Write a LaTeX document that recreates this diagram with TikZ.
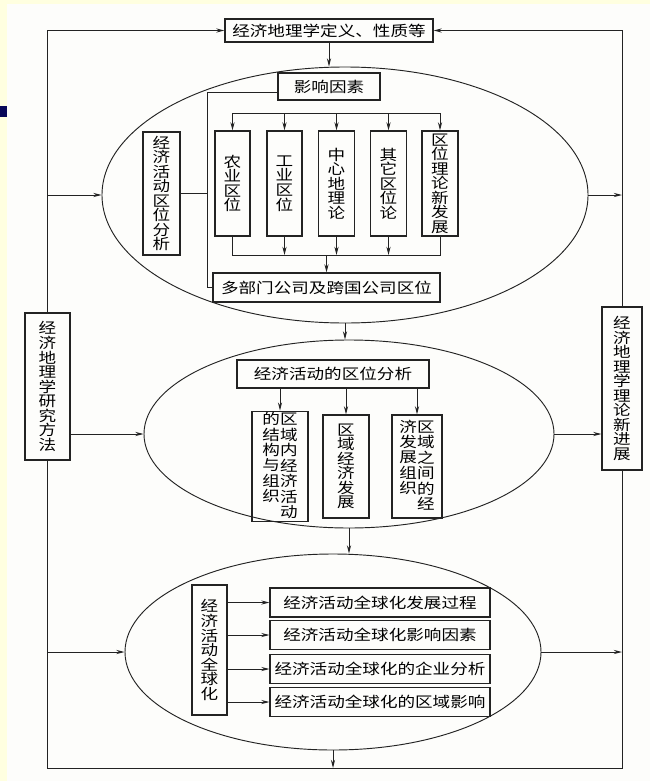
\documentclass[tikz,border=0pt]{standalone}
\usepackage{fontspec}
\newfontfamily\cjk[FakeStretch=1.2]{Noto Sans CJK SC}
\usepackage{xcolor}
\definecolor{pageyellow}{RGB}{255,255,224}
\definecolor{scanwhite}{RGB}{253,253,251}
\definecolor{slidenavy}{RGB}{8,8,88}
\definecolor{inkgray}{RGB}{35,35,35}
\usetikzlibrary{arrows.meta,shapes.geometric}

\begin{document}
\begin{tikzpicture}[x=0.03cm,y=-0.03cm,
  box/.style={draw=inkgray,line width=0.9pt,inner sep=2pt,font=\cjk\fontsize{12.5}{12.4}\selectfont},
  vbox/.style={box,align=center,inner sep=1pt},
  vboxtight/.style={box,inner sep=1pt,font=\cjk\fontsize{12.5}{11.4}\selectfont\renewcommand\arraystretch{0.8}},
  oval/.style={draw=inkgray,line width=0.8pt,ellipse,inner sep=0pt},
  link/.style={draw=inkgray,line width=0.8pt},
  arr/.style={link,-{Stealth[length=7pt,width=3.5pt]}}]
  % Page
  \fill[pageyellow] (0,0) rectangle (650,781);
  \fill[scanwhite] (7,4) rectangle (650,781);
  \fill[slidenavy] (0,106) rectangle (7,117);
  \useasboundingbox (0,0) rectangle (650,781);
  % Top and side boxes
  \node[box,minimum width=6.24cm,minimum height=0.69cm] (defn) at (329,30.5) {经济地理学定义、性质等};
  \node[vbox,minimum width=1.35cm,minimum height=4.41cm] (method) at (47.5,386.5) {经\\济\\地\\理\\学\\研\\究\\方\\法};
  \node[vbox,minimum width=1.2cm,minimum height=4.89cm] (progress) at (622,388.5) {经\\济\\地\\理\\学\\理\\论\\新\\进\\展};
  % First ellipse: location theories
  \node[oval,minimum width=14.58cm,minimum height=7.68cm] (locE) at (345,195) {};
  \node[box,minimum width=3.06cm,minimum height=0.81cm] (factor) at (329,86.5) {影响因素};
  \node[vbox,minimum width=1.11cm,minimum height=3.69cm] (locAna) at (161.5,193.5) {经\\济\\活\\动\\区\\位\\分\\析};
  \node[vbox,minimum width=1.05cm,minimum height=3.15cm] (agri) at (232.5,183.5) {农\\业\\区\\位};
  \node[vbox,minimum width=1.05cm,minimum height=3.15cm] (ind) at (284.5,183.5) {工\\业\\区\\位};
  \node[vbox,minimum width=1.08cm,minimum height=3.15cm] (cplace) at (336.5,183.5) {中\\心\\地\\理\\论};
  \node[vbox,minimum width=1.08cm,minimum height=3.15cm] (otherT) at (388.5,183.5) {其\\它\\区\\位\\论};
  \node[vbox,minimum width=1.08cm,minimum height=3.15cm] (newT) at (440,183.5) {区\\位\\理\\论\\新\\发\\展};
  \node[box,minimum width=6.81cm,minimum height=0.87cm] (multi) at (326.5,287.5) {多部门公司及跨国公司区位};
  % Second ellipse: regional analysis
  \node[oval,minimum width=12.3cm,minimum height=5.64cm] (regE) at (349,434) {};
  \node[box,minimum width=5.76cm,minimum height=0.84cm] (regAna) at (333,374) {经济活动的区位分析};
  \node[vboxtight,minimum width=1.68cm,minimum height=3.09cm] (intra) at (280,466.5)
    {\begin{tabular}[t]{@{}c@{}}的\\结\\构\\与\\组\\织\end{tabular}\begin{tabular}[t]{@{}c@{}}区\\域\\内\\经\\济\\活\\动\end{tabular}};
  \node[vbox,minimum width=1.38cm,minimum height=3.09cm] (regDev) at (346,466.5) {区\\域\\经\\济\\发\\展};
  \node[vboxtight,minimum width=1.5cm,minimum height=3.09cm] (inter) at (417,466.5)
    {\begin{tabular}[t]{@{}c@{}}济\\发\\展\\组\\织\end{tabular}\begin{tabular}[t]{@{}c@{}}区\\域\\之\\间\\的\\经\end{tabular}};
  % Third ellipse: globalisation
  \node[oval,minimum width=12.48cm,minimum height=5.88cm] (globE) at (333,652) {};
  \node[vbox,minimum width=1.05cm,minimum height=3.9cm] (glob) at (209.5,650) {经\\济\\活\\动\\全\\球\\化};
  \node[box,minimum width=6.6cm,minimum height=0.87cm] (g1) at (380,602.5) {经济活动全球化发展过程};
  \node[box,minimum width=6.6cm,minimum height=0.87cm] (g2) at (380,635) {经济活动全球化影响因素};
  \node[box,minimum width=6.6cm,minimum height=0.87cm] (g3) at (380,669) {经济活动全球化的企业分析};
  \node[box,minimum width=6.6cm,minimum height=0.87cm] (g4) at (380,702) {经济活动全球化的区域影响};
  % Helper points
  \coordinate (spine) at (207,190);
  \coordinate (busT) at (0,113);
  \coordinate (busB) at (0,255);
  \coordinate (floorL) at (47.5,768);
  \coordinate (floorR) at (622,768);
  % Outer frame
  \draw[arr] (method.north) |- (defn.west);
  \draw[arr] (progress.north) |- (defn.east);
  \draw[link] (method.south) -- (floorL) -- (floorR) -- (progress.south);
  \draw[arr] (defn.south) -- (defn.south |- locE.north);
  % Ellipses to frame
  \draw[arr] (locE.west -| method.center) -- (locE.west);
  \draw[arr] (locE.east) -- (locE.east -| progress.center);
  \draw[arr] (locE.south) -- (locE.south |- regE.north);
  \draw[arr] (method.east |- regE.west) -- (regE.west);
  \draw[arr] (regE.east) -- (regE.east -| progress.west);
  \draw[arr] (regE.south) -- (regE.south |- globE.north);
  \draw[arr] (globE.west -| method.center) -- (globE.west);
  \draw[arr] (globE.east) -- (globE.east -| progress.center);
  \draw[arr] (globE.south) -- (globE.south |- floorL);
  % Inside first ellipse
  \draw[link] ([yshift=-4.7pt]factor.west) -| (spine |- multi.west) -- (multi.west);
  \draw[link] (locAna.east) -- (locAna.east -| spine);
  \draw[link] (agri.north |- busT) -- (newT.north |- busT);
  \foreach \n in {agri,ind,cplace,otherT,newT}
    \draw[arr] (\n.north |- busT) -- (\n.north);
  \draw[link] (agri.south) |- (newT.south |- busB) -- (newT.south);
  \foreach \n in {ind,cplace,otherT}
    \draw[arr] (\n.south) -- (\n.south |- busB);
  \draw[arr] (multi.north |- busB) -- (multi.north);
  % Inside second and third ellipse
  \foreach \n in {intra,regDev,inter}
    \draw[arr] (regAna.south -| \n.north) -- (\n.north);
  \foreach \n in {g1,g2,g3,g4}
    \draw[arr] (\n.west -| glob.east) -- (\n.west);
\end{tikzpicture}
\end{document}
